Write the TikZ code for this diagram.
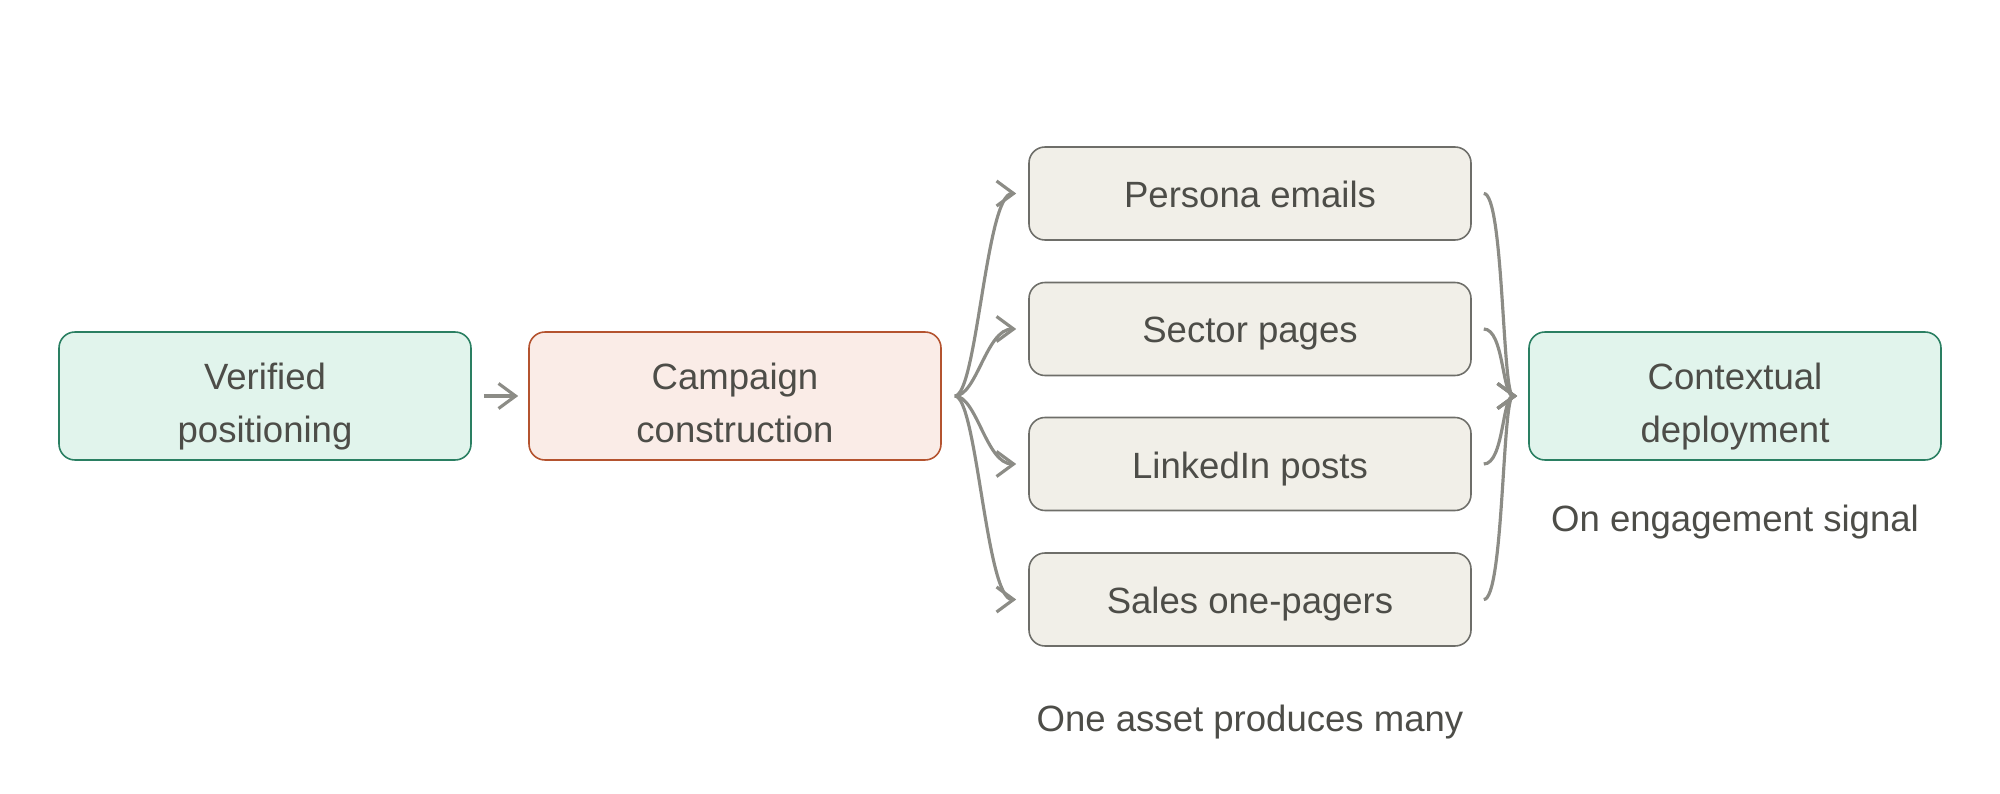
\documentclass[tikz,border=0pt]{standalone}
\usepackage{fontspec}
\setmainfont{Liberation Sans}
\usetikzlibrary{arrows.meta}
\definecolor{inkgray}{HTML}{4D4D48}
\definecolor{flowgray}{HTML}{8C8C86}
\definecolor{mintfill}{HTML}{E1F4EC}
\definecolor{mintline}{HTML}{2A7F62}
\definecolor{rosefill}{HTML}{FAECE7}
\definecolor{roseline}{HTML}{B4532F}
\definecolor{sandfill}{HTML}{F1EFE8}
\definecolor{sandline}{HTML}{6E6E69}
\begin{document}
\begin{tikzpicture}
      [font=\fontsize{10.4}{14.8}\selectfont, text=inkgray,
       stage/.style={draw, rounded corners=0.16cm, line width=0.45pt,
         text height=0.92cm, text depth=0pt,
         minimum width=4.12cm, minimum height=1.28cm, align=center},
       asset/.style={draw=sandline, fill=sandfill, rounded corners=0.16cm,
         text height=0.28cm, text depth=0pt,
         line width=0.45pt, minimum width=4.42cm, minimum height=0.93cm},
       flow/.style={draw=flowgray, line width=0.9pt,
         -{Straight Barb[length=1.7mm, width=2.5mm]}}]
      \useasboundingbox (0, 0) rectangle (20, -7.94);

      % main stages
      \node[stage, draw=mintline, fill=mintfill] (verified) at (2.65, -3.96) {Verified\\positioning};
      \node[stage, draw=roseline, fill=rosefill] (campaign) at (7.35, -3.96) {Campaign\\construction};
      \node[stage, draw=mintline, fill=mintfill] (contextual) at (17.35, -3.96) {Contextual\\deployment};

      % assets
      \node[asset] (persona) at (12.50, -1.935) {Persona emails};
      \node[asset] (sector) at (12.50, -3.29) {Sector pages};
      \node[asset] (linkedin) at (12.50, -4.64) {LinkedIn posts};
      \node[asset] (sales) at (12.50, -5.995) {Sales one-pagers};

      \node (signal) at (17.35, -5.22) {On engagement signal};
      \node (many) at (12.50, -7.22) {One asset produces many};

      \draw[flow, shorten <=0.12cm, shorten >=0.10cm] (verified) -- (campaign);

      % fan out
      \coordinate (split) at ([xshift=0.13cm]campaign.east);
      \draw[flow] (split) .. controls +(0.22,0) and +(-0.3,0) .. ([xshift=-0.12cm]persona.west);
      \draw[flow] (split) .. controls +(0.22,0) and +(-0.3,0) .. ([xshift=-0.12cm]sector.west);
      \draw[flow] (split) .. controls +(0.22,0) and +(-0.3,0) .. ([xshift=-0.12cm]linkedin.west);
      \draw[flow] (split) .. controls +(0.22,0) and +(-0.3,0) .. ([xshift=-0.12cm]sales.west);

      % fan in
      \coordinate (merge) at ([xshift=-0.11cm]contextual.west);
      \draw[flow] ([xshift=0.12cm]persona.east) .. controls +(0.2,0) and +(-0.15,0) .. (merge);
      \draw[flow] ([xshift=0.12cm]sector.east) .. controls +(0.2,0) and +(-0.15,0) .. (merge);
      \draw[flow] ([xshift=0.12cm]linkedin.east) .. controls +(0.2,0) and +(-0.15,0) .. (merge);
      \draw[flow] ([xshift=0.12cm]sales.east) .. controls +(0.2,0) and +(-0.15,0) .. (merge);
    \end{tikzpicture}
\end{document}
